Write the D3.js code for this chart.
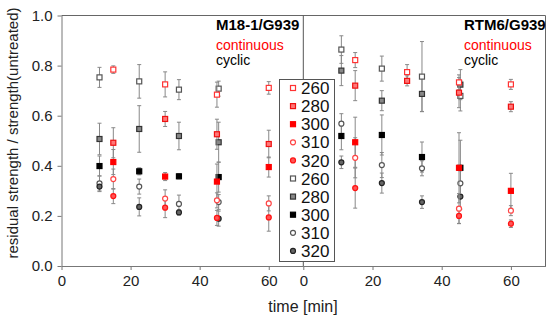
<!DOCTYPE html>
<html>
<head>
<meta charset="utf-8">
<script src="https://cdn.jsdelivr.net/npm/d3@7"></script>
<style>
  body { margin: 0; background: #fff; }
  svg { font-family: "Liberation Sans", Arial, sans-serif; }
</style>
</head>
<body>
<svg width="550" height="322"></svg>
<script>
// temperatures (legend order)
var temps = ['260', '280', '300', '310', '320'];

// M18-1/G939
var m18ContTime = [15, 30, 45, 60];
var m18ContVal = [
  [0.784, 0.725, 0.684, 0.711],
  [0.492, 0.587, 0.526, 0.487],
  [0.415, 0.357, 0.337, 0.395],
  [0.347, 0.269, 0.262, 0.250],
  [0.279, 0.233, 0.192, 0.194]
];
var m18ContErr = [
  [0.015, 0.05, 0.05, 0.025],
  [0.06, 0.03, 0.06, 0.055],
  [0.05, 0.016, 0.07, 0.04],
  [0.04, 0.035, 0.03, 0.03],
  [0.03, 0.04, 0.03, 0.055]
];
var m18CycTime = [11, 22.5, 34, 45.5];
var m18CycVal = [
  [0.753, 0.737, 0.704, 0.708],
  [0.507, 0.547, 0.519, 0.494],
  [0.399, 0.378, 0.358, 0.355],
  [0.330, 0.317, 0.248, 0.255],
  [0.317, 0.236, 0.214, 0.189]
];
var m18CycErr = [
  [0.04, 0.067, 0.04, 0.03],
  [0.063, 0.093, 0.055, 0.08],
  [0.04, 0.014, 0.01, 0.06],
  [0.03, 0.03, 0.035, 0.03],
  [0.02, 0.036, 0.01, 0.03]
];

// RTM6/G939
var rtmContTime = [15, 30, 45, 60];
var rtmContVal = [
  [0.822, 0.774, 0.733, 0.725],
  [0.720, 0.739, 0.692, 0.636],
  [0.494, null, 0.392, 0.300],
  [0.432, null, 0.229, 0.221],
  [0.311, null, 0.200, 0.169]
];
var rtmContErr = [
  [0.03, 0.03, 0.03, 0.02],
  [0.06, 0.02, 0.06, 0.02],
  [0.1, 0, 0.14, 0.07],
  [0.08, 0, 0.06, 0.02],
  [0.08, 0, 0.03, 0.015]
];
var rtmCycTime = [11, 22.7, 34.3, 45.4];
var rtmCycVal = [
  [0.864, 0.788, 0.756, 0.679],
  [0.780, 0.660, 0.687, 0.724],
  [0.519, 0.523, 0.435, 0.392],
  [0.568, 0.403, 0.390, 0.330],
  [0.414, 0.331, 0.255, 0.277]
];
var rtmCycErr = [
  [0.055, 0.05, 0.14, 0.06],
  [0.06, 0.04, 0.07, 0.06],
  [0.055, 0.08, 0.06, 0.11],
  [0.04, 0.05, 0.03, 0.05],
  [0.025, 0.04, 0.025, 0.05]
];

var xTicks = [0, 20, 40, 60];
var yTicks = [0, 0.2, 0.4, 0.6, 0.8, 1.0];

// marker styles per temperature: shape, fill, stroke
var redStyle = [
  {shape: 'square', fill: '#fff', stroke: '#f33'},
  {shape: 'square', fill: '#f77', stroke: '#e11'},
  {shape: 'square', fill: '#f00', stroke: '#f00'},
  {shape: 'circle', fill: '#fff', stroke: '#f44'},
  {shape: 'circle', fill: '#f55', stroke: '#f11'}
];
var grayStyle = [
  {shape: 'square', fill: '#fff', stroke: '#555'},
  {shape: 'square', fill: '#888', stroke: '#333'},
  {shape: 'square', fill: '#000', stroke: '#000'},
  {shape: 'circle', fill: '#fff', stroke: '#555'},
  {shape: 'circle', fill: '#666', stroke: '#222'}
];

var svg = d3.select('svg');

var xLeft = d3.scaleLinear().domain([0, 70]).range([61.5, 303.3]);
var xRight = d3.scaleLinear().domain([0, 70]).range([303.3, 545.5]);
var y = d3.scaleLinear().domain([0, 1]).range([266, 15.5]);

/**
 * frame
 */
svg.append('line')
  .attr('x1', 61.5).attr('x2', 545.5).attr('y1', 15.5).attr('y2', 15.5)
  .attr('stroke', '#666');
svg.append('line')
  .attr('x1', 545.5).attr('x2', 545.5).attr('y1', 15.5).attr('y2', 266)
  .attr('stroke', '#666');
svg.append('line')
  .attr('x1', 303.3).attr('x2', 303.3).attr('y1', 15.5).attr('y2', 266)
  .attr('stroke', '#555');

/**
 * axes
 */
function styleAxis(g) {
  g.selectAll('path,line').attr('stroke', '#777');
  g.selectAll('text').attr('fill', '#222').style('font-size', '15px');
}
svg.append('g')
  .attr('transform', 'translate(0,266)')
  .call(d3.axisBottom(xLeft).tickValues(xTicks).tickSize(4).tickSizeOuter(0).tickPadding(5))
  .call(styleAxis);
svg.append('g')
  .attr('transform', 'translate(0,266)')
  .call(d3.axisBottom(xRight).tickValues(xTicks).tickSize(4).tickSizeOuter(0).tickPadding(5))
  .call(styleAxis);
svg.append('g')
  .attr('transform', 'translate(61.5,0)')
  .call(d3.axisLeft(y).tickValues(yTicks).tickFormat(d3.format('.1f')).tickSize(4).tickSizeOuter(0).tickPadding(5))
  .call(styleAxis);

/**
 * labels
 */
svg.append('text')
  .text('time [min]')
  .attr('x', 303).attr('y', 312)
  .attr('text-anchor', 'middle')
  .style('font-size', '16px')
  .attr('fill', '#222');

svg.append('text')
  .attr('transform', 'translate(18,133) rotate(-90)')
  .attr('text-anchor', 'middle')
  .style('font-size', '15px')
  .attr('fill', '#222')
  .text('residual strength / strength(untreated)');

function panelTitle(x, name) {
  svg.append('text').text(name)
    .attr('x', x).attr('y', 30)
    .style('font-size', '15px').style('font-weight', 'bold')
    .attr('fill', '#000');
  svg.append('text').text('continuous')
    .attr('x', x).attr('y', 50)
    .style('font-size', '14px')
    .attr('fill', '#f00');
  svg.append('text').text('cyclic')
    .attr('x', x).attr('y', 65)
    .style('font-size', '14px')
    .attr('fill', '#000');
}
panelTitle(216, 'M18-1/G939');
panelTitle(464, 'RTM6/G939');

/**
 * points with error bars
 */
function drawMarker(g, cx, cy, st, size) {
  if (st.shape === 'square') {
    g.append('rect')
      .attr('x', cx - size / 2).attr('y', cy - size / 2)
      .attr('width', size).attr('height', size)
      .attr('fill', st.fill).attr('stroke', st.stroke).attr('stroke-width', 1.2);
  } else {
    g.append('circle')
      .attr('cx', cx).attr('cy', cy).attr('r', size / 2)
      .attr('fill', st.fill).attr('stroke', st.stroke).attr('stroke-width', 1.2);
  }
}

function drawSeries(xs, times, vals, errs, styles) {
  var bars = svg.append('g');
  var marks = svg.append('g');
  vals.forEach(function(row, i) {
    row.forEach(function(v, j) {
      if (v == null) return;
      var cx = xs(times[j]);
      var e = errs[i][j];
      if (e > 0) {
        bars.append('line')
          .attr('x1', cx).attr('x2', cx)
          .attr('y1', y(v + e)).attr('y2', y(v - e))
          .attr('stroke', '#888');
        [v + e, v - e].forEach(function(w) {
          bars.append('line')
            .attr('x1', cx - 2).attr('x2', cx + 2)
            .attr('y1', y(w)).attr('y2', y(w))
            .attr('stroke', '#888');
        });
      }
      drawMarker(marks, cx, y(v), styles[i], 5);
    });
  });
}

drawSeries(xLeft, m18CycTime, m18CycVal, m18CycErr, grayStyle);
drawSeries(xLeft, m18ContTime, m18ContVal, m18ContErr, redStyle);
drawSeries(xRight, rtmCycTime, rtmCycVal, rtmCycErr, grayStyle);
drawSeries(xRight, rtmContTime, rtmContVal, rtmContErr, redStyle);

/**
 * legend
 */
var legend = svg.append('g');
legend.append('rect')
  .attr('x', 279.5).attr('y', 79.5).attr('width', 55).attr('height', 182)
  .attr('fill', '#fff').attr('stroke', '#555');
var legendStyles = redStyle.concat(grayStyle);
var legendLabels = temps.concat(temps);
legendLabels.forEach(function(t, i) {
  var ly = 88 + i * 18.1;
  drawMarker(legend, 293, ly, legendStyles[i], 5);
  legend.append('text')
    .text(t)
    .attr('x', 301).attr('y', ly)
    .attr('dy', '0.36em')
    .style('font-size', '17px')
    .attr('fill', '#111');
});
</script>
</body>
</html>
